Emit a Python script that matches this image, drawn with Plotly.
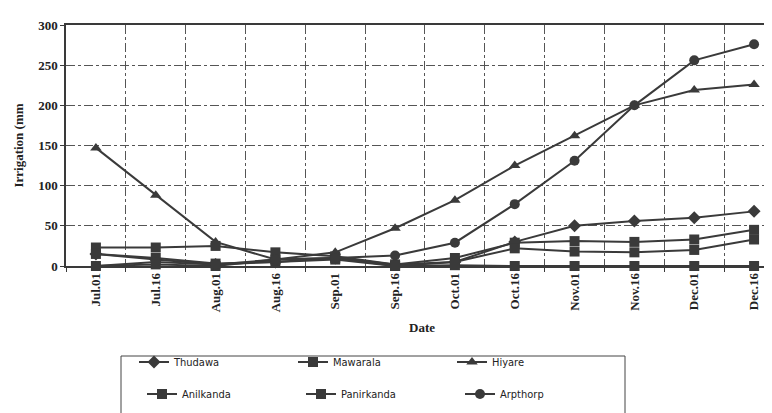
import plotly.graph_objects as go

dates = ["Jul.01", "Jul.16", "Aug.01", "Aug.16", "Sep.01", "Sep.16",
         "Oct.01", "Oct.16", "Nov.01", "Nov.16", "Dec.01", "Dec.16"]

thudawa = [15, 8, 2, 5, 10, 2, 5, 30, 50, 56, 60, 68]
mawarala = [0, 2, 0, 8, 10, 0, 1, 0, 0, 0, 0, 0]
hiyare = [147, 88, 30, 8, 17, 47, 82, 125, 162, 200, 219, 226]
anilkanda = [23, 23, 25, 17, 12, 2, 10, 29, 31, 30, 33, 45]
panirkanda = [15, 10, 3, 5, 8, 0, 5, 22, 18, 17, 20, 33]
arpthorp = [0, 5, 2, 8, 10, 13, 29, 77, 131, 200, 256, 276]

series = [
    ("Thudawa", thudawa, "diamond", 10, "legend"),
    ("Mawarala", mawarala, "square", 10, "legend"),
    ("Hiyare", hiyare, "triangle-up", 10, "legend"),
    ("Anilkanda", anilkanda, "square", 10, "legend2"),
    ("Panirkanda", panirkanda, "square", 10, "legend2"),
    ("Arpthorp", arpthorp, "circle", 10, "legend2"),
]

C = "#3a3a3a"
xpos = list(range(len(dates)))

fig = go.Figure()
for name, vals, sym, sz, lg in series:
    fig.add_trace(go.Scatter(
        x=xpos, y=vals, name=name, mode="lines+markers",
        line=dict(color=C, width=2),
        marker=dict(symbol=sym, size=sz, color=C),
        cliponaxis=False, legend=lg,
    ))

W, H = 772, 413
L, R, T, B = 58, 2, 17, 155
pw, ph = W - L - R, H - T - B

serif = "Liberation Serif"
narrow = "Liberation Sans Narrow, DejaVu Sans Condensed, Liberation Sans, sans-serif"

legend_common = dict(
    orientation="h", xref="container", yref="container",
    xanchor="left", yanchor="middle",
    entrywidth=114, entrywidthmode="pixels",
    font=dict(family=narrow, size=11, color="#222"),
    bgcolor="rgba(0,0,0,0)", tracegroupgap=0, itemwidth=30,
)

fig.update_layout(
    width=W, height=H,
    margin=dict(l=L, r=R, t=T, b=B),
    paper_bgcolor="white", plot_bgcolor="white",
    legend=dict(x=126 / W, y=1 - 354 / H, **legend_common),
    legend2=dict(x=134 / W, y=1 - 386 / H, **legend_common),
    xaxis=dict(
        range=[-0.5, 11.4],
        tickmode="array", tickvals=xpos, ticktext=dates,
        tickangle=-90, showgrid=False,
        tickfont=dict(family=serif, size=13, color="#222", weight="bold"),
        ticklabelstandoff=0,
        showline=True, linecolor=C, linewidth=1.5, mirror=True,
        ticks="", zeroline=False,
        minor=dict(tick0=0.5, dtick=1, showgrid=True, gridcolor="#555",
                   griddash="dashdot", gridwidth=1, ticks="outside",
                   ticklen=4, tickcolor=C),
        title=dict(text="Date", standoff=12,
                   font=dict(family=serif, size=13, color="#222", weight="bold")),
    ),
    yaxis=dict(
        range=[0, 300], tickvals=[0, 50, 100, 150, 200, 250, 300],
        showgrid=True, gridcolor="#555", griddash="dashdot", gridwidth=1,
        tickfont=dict(family=serif, size=13, color="#222", weight="bold"),
        showline=True, linecolor=C, linewidth=1.5,
        ticks="outside", ticklen=4, tickcolor=C, zeroline=False,
        title=dict(text="Irrigation (mm", standoff=12,
                   font=dict(family=serif, size=13, color="#222", weight="bold")),
    ),
    shapes=[dict(
        type="rect", xref="paper", yref="paper",
        x0=(113 - L) / pw, x1=(617 - L) / pw,
        y0=(258 - 411) / ph, y1=(258 - 348) / ph,
        line=dict(color="#444", width=1), fillcolor="rgba(0,0,0,0)",
    )],
)

fig.write_html("out.html")
